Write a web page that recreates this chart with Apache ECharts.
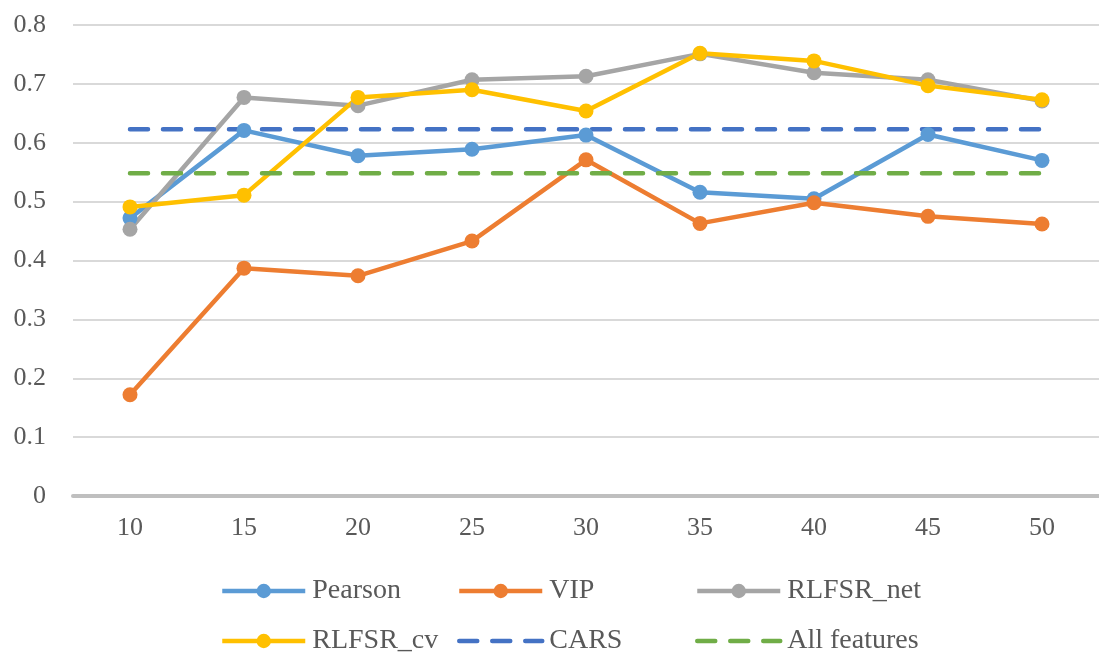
<!DOCTYPE html>
<html>
<head>
<meta charset="utf-8">
<script src="https://cdn.jsdelivr.net/npm/echarts@6/dist/echarts.min.js"></script>
<style>
  html, body { margin: 0; padding: 0; background: #ffffff; }
  #chart { width: 1099px; height: 657px; }
</style>
</head>
<body>
<div id="chart"></div>
<script>
// Number of selected features
const categories = ['10', '15', '20', '25', '30', '35', '40', '45', '50'];

// Score for each feature selection method
const pearson   = [0.472, 0.621, 0.578, 0.589, 0.613, 0.516, 0.505, 0.614, 0.570];
const vip       = [0.172, 0.387, 0.374, 0.433, 0.571, 0.463, 0.498, 0.475, 0.462];
const rlfsrNet  = [0.453, 0.677, 0.663, 0.707, 0.713, 0.751, 0.719, 0.707, 0.671];
const rlfsrCv   = [0.491, 0.511, 0.677, 0.690, 0.654, 0.752, 0.739, 0.697, 0.673];
// Reference levels
const carsValue = 0.623;
const allFeaturesValue = 0.548;

const yTicks = { min: 0, max: 0.8, interval: 0.1 };

const FONT = "'Liberation Serif', 'Times New Roman', serif";
const TEXT_COLOR = '#595959';
const DASH = [18, 15];

function solidSeries(name, data, color) {
  return {
    name: name,
    type: 'line',
    data: data,
    symbol: 'circle',
    symbolSize: 15,
    itemStyle: { color: color },
    lineStyle: { color: color, width: 4.5 },
    emphasis: { disabled: true },
    animation: false
  };
}

function dashedSeries(name, value, color) {
  return {
    name: name,
    type: 'line',
    data: categories.map(() => value),
    symbol: 'none',
    itemStyle: { color: color },
    lineStyle: { color: color, width: 4.5, type: DASH, cap: 'round' },
    emphasis: { disabled: true },
    animation: false
  };
}

// One legend box per cell so the three columns line up across both rows
const legendCols = [220, 457, 695];
const legendRows = [577, 627];
const legendNames = [['Pearson', 'VIP', 'RLFSR_net'], ['RLFSR_cv', 'CARS', 'All features']];
const dashedNames = ['CARS', 'All features'];
const legends = [];
legendNames.forEach((row, r) => {
  row.forEach((name, c) => {
    const dashed = dashedNames.includes(name);
    legends.push({
      data: [dashed ? { name: name, itemStyle: { opacity: 0 } } : name],
      left: legendCols[c],
      top: legendRows[r],
      padding: 0,
      itemWidth: 83,
      itemHeight: 18,
      selectedMode: false,
      lineStyle: dashed
        ? { width: 4.5, type: DASH, cap: 'round' }
        : { width: 4.5 },
      textStyle: {
        fontFamily: FONT,
        fontSize: 28,
        color: TEXT_COLOR,
        padding: [0, 0, 0, 2]
      }
    });
  });
});

const chart = echarts.init(document.getElementById('chart'), null, { renderer: 'canvas' });
chart.setOption({
  backgroundColor: '#ffffff',
  animation: false,
  grid: { left: 73, top: 25, width: 1031, height: 471, containLabel: false },
  legend: legends,
  xAxis: {
    type: 'category',
    data: categories,
    boundaryGap: true,
    axisLine: { lineStyle: { color: '#bfbfbf', width: 4 } },
    axisTick: { show: false },
    axisLabel: { fontFamily: FONT, fontSize: 26, color: TEXT_COLOR, margin: 19 }
  },
  yAxis: {
    type: 'value',
    min: yTicks.min,
    max: yTicks.max,
    interval: yTicks.interval,
    axisLine: { show: false },
    axisTick: { show: false },
    splitLine: { lineStyle: { color: '#d9d9d9', width: 2 } },
    axisLabel: { fontFamily: FONT, fontSize: 26, color: TEXT_COLOR, margin: 27 }
  },
  series: [
    solidSeries('Pearson', pearson, '#5B9BD5'),
    solidSeries('VIP', vip, '#ED7D31'),
    solidSeries('RLFSR_net', rlfsrNet, '#A5A5A5'),
    solidSeries('RLFSR_cv', rlfsrCv, '#FFC000'),
    dashedSeries('CARS', carsValue, '#4472C4'),
    dashedSeries('All features', allFeaturesValue, '#70AD47')
  ]
});
</script>
</body>
</html>
